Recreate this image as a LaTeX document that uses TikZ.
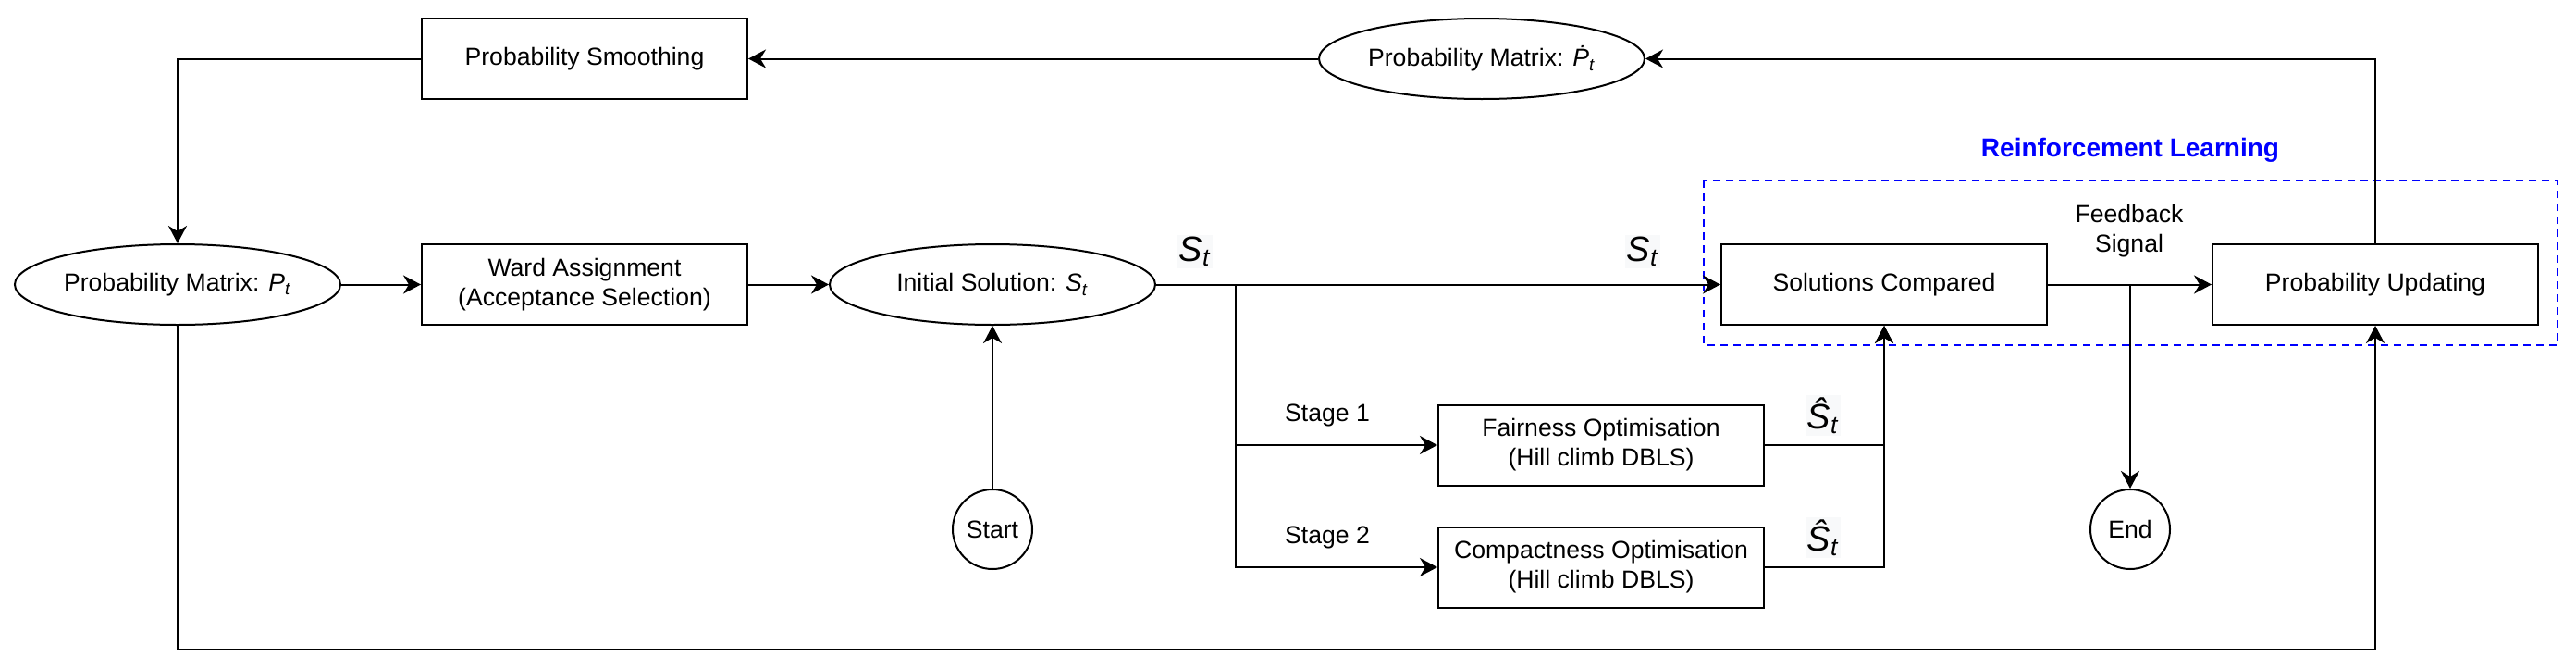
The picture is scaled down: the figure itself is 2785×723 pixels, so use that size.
\documentclass[tikz,border=0pt]{standalone}
\usepackage{fontspec}
\setmainfont{Liberation Sans}
\usetikzlibrary{shapes.geometric,arrows.meta}
\definecolor{rlblue}{RGB}{0,0,255}
\definecolor{lblbg}{RGB}{248,249,250}
\newcommand{\mysub}[1]{\textsubscript{\textit{#1}}}
\tikzset{
  base/.style={draw, line width=1pt, minimum width=176pt, minimum height=43.5pt, inner sep=0pt,
    font=\fontsize{13.3}{16}\selectfont, align=center},
  box/.style={base, rectangle},
  oval/.style={base, ellipse},
  circ/.style={draw, circle, line width=1pt, minimum size=43pt, inner sep=0pt,
    font=\fontsize{13.3}{16}\selectfont},
  arr/.style={line width=1pt, -{Stealth[length=9.5pt,width=10pt,inset=3pt]}},
  ln/.style={line width=1pt},
  lbl/.style={font=\fontsize{13.3}{16}\selectfont, align=center, inner sep=0pt},
  slbl/.style={font=\fontsize{19}{21}\selectfont, fill=lblbg, inner sep=1pt},
}
\begin{document}
\begin{tikzpicture}[x=0.5pt,y=-0.5pt]
\useasboundingbox (0,0) rectangle (2785,723);
% nodes
\node[box] (smooth) at (632,63.5) {Probability Smoothing};
\node[oval] (pdot) at (1602,63.5) {Probability Matrix: \textit{Ṗ}\mysub{t}};
\node[oval] (pt) at (192,307.5) {Probability Matrix: \textit{P}\mysub{t}};
\node[box] (ward) at (632,307.5) {Ward Assignment\\(Acceptance Selection)};
\node[oval] (init) at (1073,307.5) {Initial Solution: \textit{S}\mysub{t}};
\node[box] (comp) at (2037,307.5) {Solutions Compared};
\node[box] (upd) at (2568,307.5) {Probability Updating};
\node[box] (fair) at (1731,481) {Fairness Optimisation\\(Hill climb DBLS)};
\node[box] (cpt) at (1731,613) {Compactness Optimisation\\(Hill climb DBLS)};
\node[circ] (start) at (1073,572) {Start};
\node[circ] (end) at (2303,572) {End};
% coordinates
\coordinate (j1) at (1336,307.5);
\coordinate (j2) at (2303,307.5);
\coordinate (bl) at (192,701.5);
% RL frame
\draw[rlblue, line width=0.7pt, dash pattern=on 4pt off 3pt] (1842,195) rectangle (2765,373);
\node[font=\bfseries\fontsize{14}{16}\selectfont, text=rlblue, inner sep=0pt] (rl) at (2303,162) {Reinforcement Learning};
% connectors
\draw[arr] (pt) -- (ward);
\draw[arr] (ward) -- (init);
\draw[arr] (init) -- (comp);
\draw[arr] (j1) |- (fair.west);
\draw[arr] (j1) |- (cpt.west);
\draw[arr] (start) -- (init);
\draw[arr] (fair.east) -| (comp.south);
\draw[arr] (cpt.east) -| (comp.south);
\draw[arr] (comp) -- (upd);
\draw[arr] (j2) -- (end);
\draw[arr] (upd.north) |- (pdot.east);
\draw[arr] (pdot) -- (smooth);
\draw[arr] (smooth.west) -| (pt.north);
\draw[arr] (pt.south) -- (bl) -| (upd.south);
% labels
\node[slbl] (s1) at (1292,272) {\textit{S}\mysub{t}};
\node[slbl] (s2) at (1776,272) {\textit{S}\mysub{t}};
\node[slbl] (h1) at (1971,449) {\textit{\^S}\mysub{t}};
\node[slbl] (h2) at (1971,581) {\textit{\^S}\mysub{t}};
\node[lbl] (st1) at (1435,449) {Stage 1};
\node[lbl] (st2) at (1435,581) {Stage 2};
\node[lbl] (fb) at (2302,250) {Feedback\\Signal};
\end{tikzpicture}
\end{document}
